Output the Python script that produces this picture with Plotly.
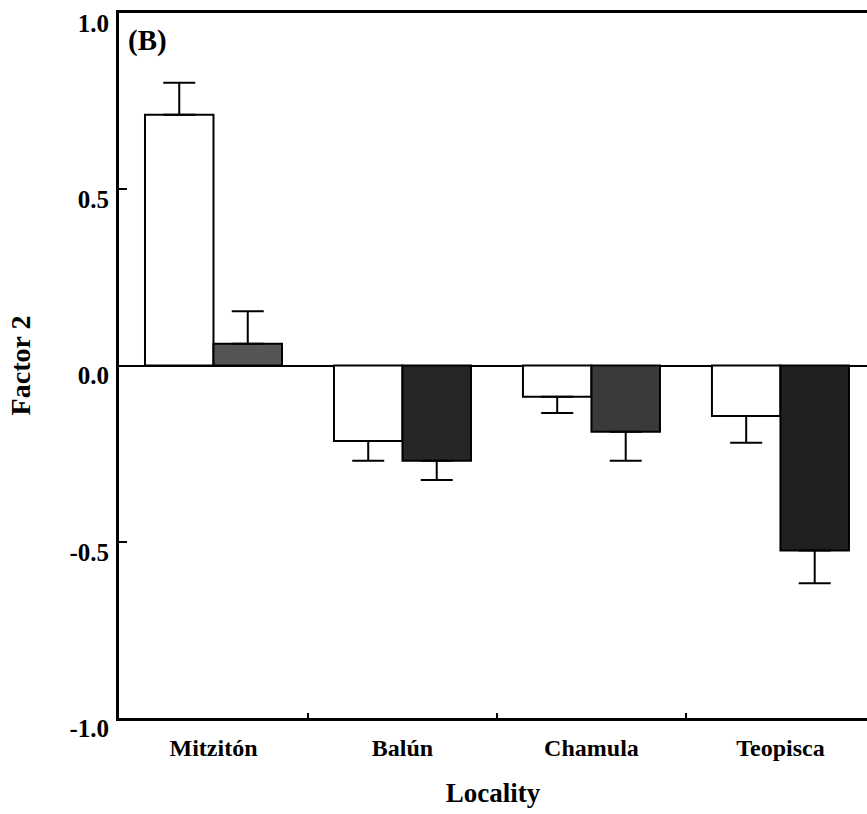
import plotly.graph_objects as go

categories = ["Mitzitón", "Balún", "Chamula", "Teopisca"]
white_vals = [0.711, -0.214, -0.089, -0.143]
white_err = [0.091, 0.056, 0.046, 0.076]
grey_vals = [0.062, -0.270, -0.188, -0.525]
grey_err = [0.092, 0.055, 0.082, 0.093]
ytick_vals = [-1.0, -0.5, 0.0, 0.5, 1.0]
ytick_text = ["-1.0", "-0.5", "0.0", "0.5", "1.0"]
panel_label = "(B)"
x_title = "Locality"
y_title = "Factor 2"

FONT = "Liberation Serif"


def err_up(vals, errs):
    return [e if v >= 0 else 0 for v, e in zip(vals, errs)]


def err_down(vals, errs):
    return [e if v < 0 else 0 for v, e in zip(vals, errs)]


fig = go.Figure()
fig.add_trace(go.Bar(
    x=categories, y=white_vals,
    marker=dict(color="white", line=dict(color="black", width=2)),
    error_y=dict(type="data", symmetric=False,
                 array=err_up(white_vals, white_err),
                 arrayminus=err_down(white_vals, white_err),
                 color="black", thickness=2, width=16),
    showlegend=False,
))
fig.add_trace(go.Bar(
    x=categories, y=grey_vals,
    marker=dict(color=["#555555", "#262626", "#3a3a3a", "#202020"],
                line=dict(color="black", width=2)),
    error_y=dict(type="data", symmetric=False,
                 array=err_up(grey_vals, grey_err),
                 arrayminus=err_down(grey_vals, grey_err),
                 color="black", thickness=2, width=16),
    showlegend=False,
))

fig.update_layout(
    width=867, height=814,
    margin=dict(l=119, r=0, t=13, b=96),
    paper_bgcolor="white", plot_bgcolor="white",
    barmode="group", bargap=0.275, bargroupgap=0,
    font=dict(family=FONT, color="black"),
    xaxis=dict(
        range=[-0.5, 3.458], automargin=False,
        showline=True, linecolor="black", linewidth=3, mirror=True,
        ticks="inside", ticklen=5, tickwidth=2, tickcolor="black",
        tickson="boundaries",
        showgrid=False, zeroline=False,
        tickfont=dict(family=FONT, size=24, color="black", weight="bold"),
        ticklabelstandoff=6,
        title=dict(text=x_title, standoff=24,
                   font=dict(family=FONT, size=27, color="black", weight="bold")),
    ),
    yaxis=dict(
        range=[-1.0, 1.0], automargin=False,
        tickvals=ytick_vals, ticktext=ytick_text,
        showline=True, linecolor="black", linewidth=3,
        ticks="inside", ticklen=8, tickwidth=2, tickcolor="black",
        showgrid=False,
        zeroline=True, zerolinecolor="black", zerolinewidth=2,
        tickfont=dict(family=FONT, size=25, color="black", weight="bold"),
        ticklabelshift=10, ticklabelstandoff=2, ticklabeloverflow="allow",
        title=dict(text=y_title, standoff=31,
                   font=dict(family=FONT, size=28, color="black", weight="bold")),
    ),
)

fig.add_annotation(
    text=panel_label, xref="paper", yref="paper",
    x=0.0, y=1.0, xshift=7, yshift=-9,
    xanchor="left", yanchor="top", showarrow=False,
    font=dict(family=FONT, size=29, color="black", weight="bold"),
)

fig.write_html(
    "out.html",
    config={"displayModeBar": False},
    post_script="document.body.style.margin='0';document.body.style.overflow='hidden';",
)
